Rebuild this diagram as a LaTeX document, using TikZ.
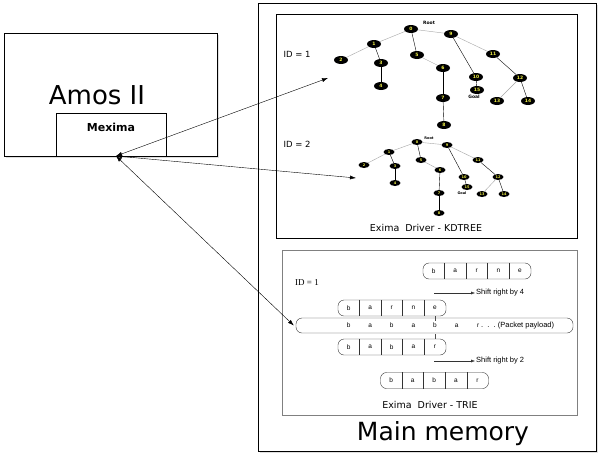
\documentclass[tikz,border=0pt]{standalone}
\usepackage{fontspec}
\setmainfont{DejaVu Sans}
\newfontfamily\arialf{Liberation Sans}
\newfontfamily\timesf{Liberation Serif}
\usetikzlibrary{shapes.geometric,shadows,arrows.meta}
\definecolor{nodeyellow}{RGB}{240,240,70}
\tikzset{
  tn/.style={ellipse,fill=black,text=nodeyellow,inner sep=0pt,minimum width=14pt,minimum height=8pt,font=\fontsize{4.5}{5}\selectfont\bfseries},
  tm/.style={tn,minimum width=11pt,minimum height=6pt,font=\fontsize{3.5}{4}\selectfont\bfseries},
  ge/.style={draw=gray!70},
  box/.style={draw,inner sep=0pt},
  shbox/.style={box,fill=white,drop shadow={opacity=0.25,shadow xshift=2pt,shadow yshift=-2pt}},
  cellbox/.style={draw=black!80,rounded corners=6pt,minimum width=108pt,minimum height=16pt,inner sep=0pt},
  lt/.style={font=\arialf\fontsize{6.5}{7}\selectfont},
  st/.style={font=\arialf\fontsize{7.5}{8}\selectfont},
  tag/.style={font=\fontsize{4.5}{5}\selectfont\bfseries},
}
\newcommand{\cellrow}[3]{%
  \node[cellbox] (#1) at (#2) {};
  \foreach \k in {1,...,4}
    \draw[black!80] ([xshift=21.6*\k]#1.north west) -- ([xshift=21.6*\k]#1.south west);
  \foreach \l [count=\k] in {#3}
    \node[lt] at ([xshift=21.6*\k-10.8]#1.west) {\l};
}
\begin{document}
\begin{tikzpicture}[x=1pt,y=-1pt]
\useasboundingbox (0,0) rectangle (600,469);
% boxes
\node[shbox,minimum width=338pt,minimum height=448pt] (mem) at (427,227) {};
\node[box,minimum width=301pt,minimum height=224pt] (kd) at (426.5,126) {};
\node[box,draw=gray,minimum width=295pt,minimum height=165pt] (trie) at (429.5,332.5) {};
\node[shbox,minimum width=213pt,minimum height=123pt] (amos) at (110.5,94.5) {};
\node[box,minimum width=110pt,minimum height=43pt] (mex) at (111,134.5) {};
\node[font=\fontsize{26}{28}\selectfont] (amost) at (97,95) {Amos II};
\node[font=\fontsize{11}{12}\selectfont\bfseries] (mext) at (111,127) {Mexima};
\node[font=\fontsize{25}{27}\selectfont] (memt) at (443,434) {Main memory};
\node[font=\fontsize{9.5}{10}\selectfont] (kdt) at (426,228) {Exima\ \ Driver - KDTREE};
\node[font=\fontsize{9.5}{10}\selectfont] (triet) at (430,405) {Exima\ \ Driver - TRIE};
\node[font=\fontsize{8.5}{9}\selectfont] (id1) at (297,54) {ID = 1};
\node[font=\fontsize{8.5}{9}\selectfont] (id2) at (297,144) {ID = 2};
\node[font=\timesf\fontsize{9}{10}\selectfont] (id3) at (307,283) {ID = 1};
% tree 1
\node[tn] (a0) at (411,29) {0};
\node[tn] (a1) at (374,44) {1};
\node[tn] (a2) at (341,60) {2};
\node[tn] (a3) at (381,63) {3};
\node[tn] (a4) at (381,86) {4};
\node[tn] (a5) at (417,55) {5};
\node[tn] (a6) at (443,68) {6};
\node[tn] (a7) at (443,98) {7};
\node[tn] (a8) at (444,125) {8};
\node[tn] (a9) at (451,34) {9};
\node[tn] (a10) at (476,77) {10};
\node[tn] (a11) at (493,54) {11};
\node[tn] (a12) at (520,78) {12};
\node[tn] (a13) at (497,101) {13};
\node[tn] (a14) at (528,101) {14};
\node[tn] (a15) at (477,90) {15};
\node[tag] (ra) at (429,23) {Root};
\node[tag] (ga) at (474,97) {Goal};
\draw[ge] (a0) -- (a1);
\draw[ge] (a1) -- (a2);
\draw (a1) -- (a3);
\draw (a3) -- (a4);
\draw (a0) -- (a5);
\draw[ge] (a5) -- (a6);
\draw (a6) -- (a7);
\draw (a7) -- (a8);
\draw[ge] (a0) -- (a9);
\draw (a9) -- (a10);
\draw (a10) -- (a15);
\draw[ge] (a9) -- (a11);
\draw (a11) -- (a12);
\draw[ge] (a12) -- (a13);
\draw (a12) -- (a14);
% tree 2
\node[tm] (b0) at (417,142) {0};
\node[tm] (b1) at (389,152) {1};
\node[tm] (b2) at (364,165) {2};
\node[tm] (b3) at (395,166) {3};
\node[tm] (b4) at (395,183) {4};
\node[tm] (b5) at (421,160) {5};
\node[tm] (b6) at (440,170) {6};
\node[tm] (b7) at (439,193) {7};
\node[tm] (b8) at (439,213) {8};
\node[tm] (b9) at (447,145) {9};
\node[tm] (b10) at (464,177) {10};
\node[tm] (b11) at (478,160) {11};
\node[tm] (b12) at (498,177) {12};
\node[tm] (b13) at (482,194) {13};
\node[tm] (b14) at (504,194) {14};
\node[tm] (b15) at (467,187) {15};
\node[tag,font=\fontsize{3.5}{4}\selectfont\bfseries] (rb) at (429,138) {Root};
\node[tag,font=\fontsize{3.5}{4}\selectfont\bfseries] (gb) at (462,193) {Goal};
\draw[ge] (b0) -- (b1);
\draw[ge] (b1) -- (b2);
\draw (b1) -- (b3);
\draw (b3) -- (b4);
\draw (b0) -- (b5);
\draw[ge] (b5) -- (b6);
\draw (b6) -- (b7);
\draw (b7) -- (b8);
\draw[ge] (b0) -- (b9);
\draw (b9) -- (b10);
\draw (b10) -- (b15);
\draw[ge] (b9) -- (b11);
\draw (b11) -- (b12);
\draw[ge] (b12) -- (b13);
\draw (b12) -- (b14);
% trie
\cellrow{bar1}{477,271}{b,a,r,n,e}
\cellrow{bar2}{392,308}{b,a,r,n,e}
\cellrow{bab1}{392,347}{b,a,b,a,r}
\cellrow{bab2}{434.5,380.5}{b,a,b,a,r}
\node[cellbox,minimum width=277pt,minimum height=15pt] (pay) at (434.5,325.5) {};
\foreach \l [count=\k] in {b,a,b,a,b,a,r}
  \node[lt] at ([xshift=31.2+21.6*\k]pay.west) {\l};
\node[st,anchor=west,inner sep=0pt] (payt) at (481,325.5) {.\ \ .\ \ .\ (Packet payload)};
\draw[black!70] ([xshift=97.2]bar2.south west) -- ++(0,5);
\draw[black!70] ([xshift=97.2]bab1.north west) -- ++(0,-5);
\coordinate (s4a) at (434,293);
\node[st,anchor=west,inner sep=1pt] (s4) at (475,293) {Shift right by 4};
\draw[black!80,-{Latex[length=4pt,width=3pt]}] (s4a) -- (s4);
\coordinate (s2a) at (434,361);
\node[st,anchor=west,inner sep=1pt] (s2) at (475,361) {Shift right by 2};
\draw[black!80,-{Latex[length=4pt,width=3pt]}] (s2a) -- (s2);
% links
\coordinate (jn) at (116,156);
\coordinate (t1) at (328,78);
\coordinate (t2) at (356,178);
\draw[{Latex[length=6pt,width=4pt]}-{Latex[length=6pt,width=4pt]}] (jn) -- (t1);
\draw[{Latex[length=6pt,width=4pt]}-{Latex[length=6pt,width=4pt]}] (jn) -- (t2);
\draw[{Latex[length=6pt,width=4pt]}-{Latex[length=6pt,width=4pt]}] (jn) -- ([xshift=-2pt]pay.west);
\end{tikzpicture}
\end{document}
